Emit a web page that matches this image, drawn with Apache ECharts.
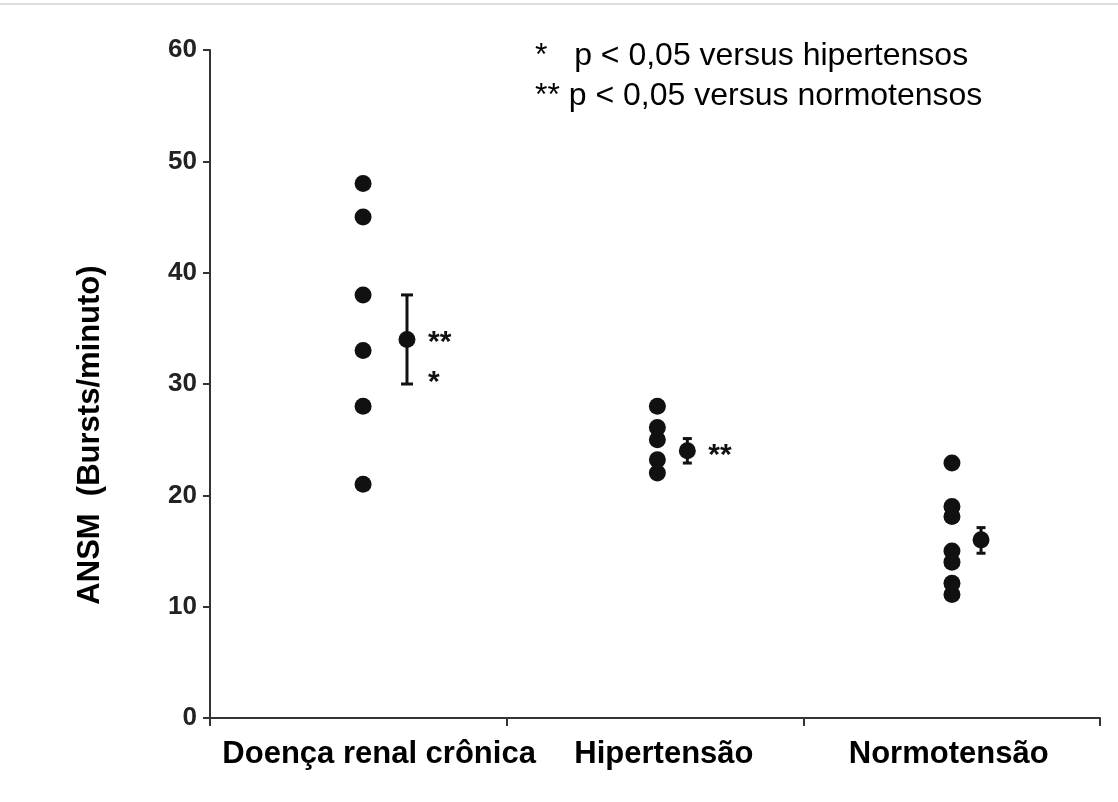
<!DOCTYPE html>
<html><head><meta charset="utf-8">
<script src="https://cdn.jsdelivr.net/npm/echarts@6/dist/echarts.min.js"></script>
<style>html,body{margin:0;padding:0;background:#fff}#c{width:1118px;height:802px}</style>
</head><body><div id="c"></div>
<script>
// ---- data ----
const categories = ['Doença renal crônica', 'Hipertensão', 'Normotensão'];
const pointsDRC = [48, 45, 38, 33, 28, 21];
const pointsHT = [28, 26.1, 25, 23.2, 22];
const pointsNT = [22.9, 19, 18.1, 15, 14, 12.1, 11.1];
const meanValues = [34, 24, 16];
const errLow = [30, 22.9, 14.8];
const errHigh = [38, 25.1, 17.1];
const groupX = [0.516, 1.508, 2.501];   // horizontal position of individual points (axis units)
const meanX = [0.664, 1.609, 2.599];    // horizontal position of mean ± error
const annotations = [ // [x, y, text]
  [0.664, 33.7, '**'], [0.664, 30.1, '*'], [1.609, 23.6, '**']
];
const yTicks = [0, 10, 20, 30, 40, 50, 60];
const yTitle = 'ANSM  (Bursts/minuto)';
const legendLines = ['*   p < 0,05 versus hipertensos', '** p < 0,05 versus normotensos'];
const labelPos = [0.57, 1.53, 2.49];

const groups = [pointsDRC, pointsHT, pointsNT];
const pointData = [];
groups.forEach((g, i) => g.forEach(v => pointData.push([groupX[i], v])));
const meanData = meanValues.map((m, i) => [meanX[i], m]);
const errData = meanValues.map((m, i) => [meanX[i], errLow[i], errHigh[i], i === 0 ? 6 : 4.5]);

const chart = echarts.init(document.getElementById('c'));
chart.setOption({
  animation: false,
  backgroundColor: '#fff',
  grid: { left: 210, right: 18, top: 50, bottom: 84 },
  xAxis: {
    type: 'value', min: 0, max: 3,
    axisLine: { show: true, lineStyle: { color: '#333', width: 2 } },
    axisTick: { show: true, length: 8, customValues: [0, 1, 2, 3], lineStyle: { color: '#333', width: 2 } },
    splitLine: { show: false },
    axisLabel: {
      customValues: labelPos, margin: 21,
      formatter: v => categories[Math.round(v - 0.5)] || '',
      fontFamily: 'Liberation Sans, Arial', fontWeight: 'bold',
      fontSize: 31, color: '#000'
    }
  },
  yAxis: {
    type: 'value', min: 0, max: 60, interval: 10,
    axisLine: { show: true, lineStyle: { color: '#333', width: 2 } },
    axisTick: { show: true, length: 7, lineStyle: { color: '#333', width: 2 } },
    splitLine: { show: false },
    axisLabel: { margin: 13, fontFamily: 'Liberation Sans, Arial', fontWeight: 'bold', fontSize: 26, color: '#222',
      formatter: v => yTicks.includes(v) ? String(v) : '' }
  },
  series: [
    { type: 'scatter', data: pointData, symbol: 'circle', symbolSize: 17,
      itemStyle: { color: '#111', opacity: 1 }, z: 3 },
    { type: 'custom', data: errData,
      renderItem: (params, api) => {
        const x = api.value(0);
        const lo = api.coord([x, api.value(1)]);
        const hi = api.coord([x, api.value(2)]);
        const w = api.value(3);
        const style = { stroke: '#111', lineWidth: 3 };
        return { type: 'group', children: [
          { type: 'line', shape: { x1: lo[0], y1: lo[1], x2: hi[0], y2: hi[1] }, style },
          { type: 'line', shape: { x1: lo[0] - w, y1: lo[1], x2: lo[0] + w, y2: lo[1] }, style },
          { type: 'line', shape: { x1: hi[0] - w, y1: hi[1], x2: hi[0] + w, y2: hi[1] }, style }
        ]};
      }, z: 2 },
    { type: 'scatter', data: meanData, symbol: 'circle', symbolSize: 17,
      itemStyle: { color: '#111', opacity: 1 }, z: 4 },
    { type: 'scatter', data: annotations, symbolSize: 0, silent: true,
      itemStyle: { color: '#111', opacity: 1 },
      label: { show: true, position: 'right', distance: 21, formatter: p => p.data[2],
        fontFamily: 'Liberation Sans, Arial', fontWeight: 'bold', fontSize: 30, color: '#111', opacity: 1 } }
  ],
  graphic: [
    { type: 'line', shape: { x1: 0, y1: 4, x2: 1118, y2: 4 }, style: { stroke: '#ddd', lineWidth: 2 } },
    { type: 'text', x: 90, y: 435, rotation: Math.PI / 2,
      style: { text: yTitle, font: 'bold 31px "Liberation Sans", Arial', fill: '#000', align: 'center', verticalAlign: 'middle' } },
    { type: 'text', x: 535, y: 56, style: { text: legendLines[0], font: '32px "Liberation Sans", Arial', fill: '#000', verticalAlign: 'middle' } },
    { type: 'text', x: 535, y: 96, style: { text: legendLines[1], font: '32px "Liberation Sans", Arial', fill: '#000', verticalAlign: 'middle' } }
  ]
});
</script></body></html>
